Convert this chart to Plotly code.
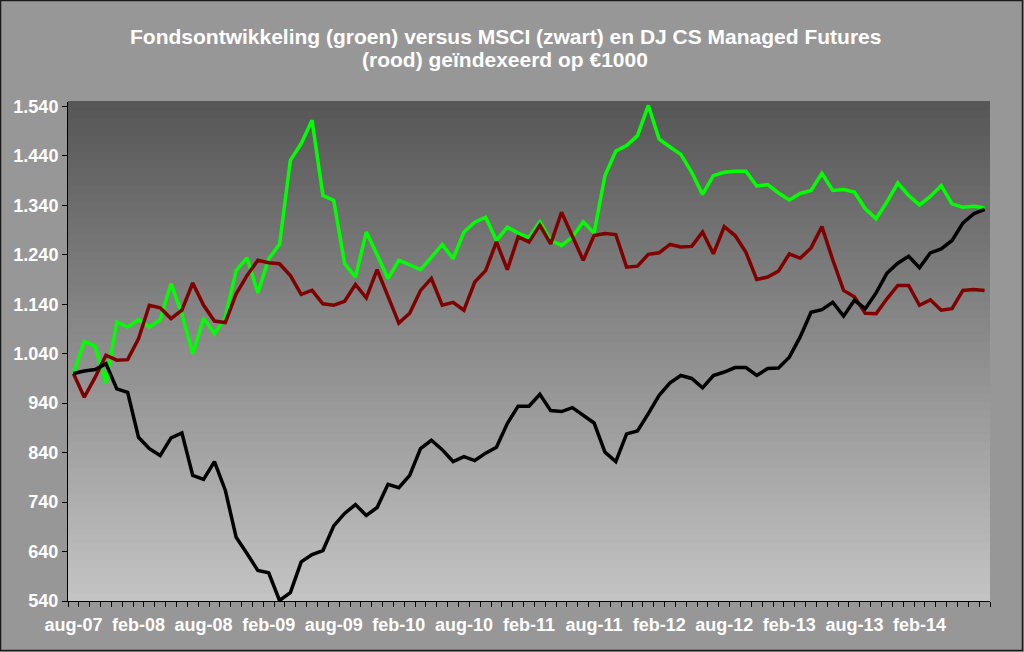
import plotly.graph_objects as go

# === Data (monthly, indexed on 1000) ===
months = ["aug-07", "sep-07", "okt-07", "nov-07", "dec-07", "jan-08", "feb-08", "mrt-08", "apr-08", "mei-08",
          "jun-08", "jul-08", "aug-08", "sep-08", "okt-08", "nov-08", "dec-08", "jan-09", "feb-09", "mrt-09",
          "apr-09", "mei-09", "jun-09", "jul-09", "aug-09", "sep-09", "okt-09", "nov-09", "dec-09", "jan-10",
          "feb-10", "mrt-10", "apr-10", "mei-10", "jun-10", "jul-10", "aug-10", "sep-10", "okt-10", "nov-10",
          "dec-10", "jan-11", "feb-11", "mrt-11", "apr-11", "mei-11", "jun-11", "jul-11", "aug-11", "sep-11",
          "okt-11", "nov-11", "dec-11", "jan-12", "feb-12", "mrt-12", "apr-12", "mei-12", "jun-12", "jul-12",
          "aug-12", "sep-12", "okt-12", "nov-12", "dec-12", "jan-13", "feb-13", "mrt-13", "apr-13", "mei-13",
          "jun-13", "jul-13", "aug-13", "sep-13", "okt-13", "nov-13", "dec-13", "jan-14", "feb-14", "mrt-14",
          "apr-14", "mei-14", "jun-14", "jul-14", "aug-14"]

fonds = [1000, 1065, 1055, 980, 1104, 1094, 1109, 1094, 1109, 1182,
         1120, 1040, 1112, 1080, 1114, 1208, 1234, 1163, 1232, 1261,
         1431, 1465, 1512, 1360, 1350, 1222, 1195, 1286, 1240, 1192,
         1229, 1220, 1210, 1235, 1261, 1232, 1286, 1306, 1316, 1269,
         1296, 1284, 1275, 1307, 1269, 1259, 1276, 1307, 1284, 1400,
         1450, 1461, 1481, 1542, 1474, 1458, 1443, 1407, 1362, 1400,
         1407, 1409, 1409, 1379, 1382, 1365, 1351, 1364, 1370, 1405,
         1370, 1372, 1367, 1333, 1313, 1347, 1385, 1360, 1341, 1358,
         1380, 1343, 1336, 1338, 1335]

msci = [1000, 1005, 1008, 1020, 969, 962, 871, 848, 834, 870,
        880, 794, 786, 822, 764, 669, 636, 602, 597, 541,
        557, 619, 634, 642, 692, 717, 735, 713, 729, 776,
        769, 794, 848, 865, 846, 822, 832, 824, 839, 851,
        899, 934, 934, 958, 925, 923, 931, 915, 900, 841,
        822, 878, 884, 919, 956, 981, 996, 990, 971, 996,
        1003, 1012, 1012, 996, 1010, 1011, 1033, 1074, 1124, 1129,
        1144, 1116, 1148, 1131, 1163, 1203, 1223, 1237, 1214, 1244,
        1252, 1269, 1304, 1323, 1332]

djcs = [1000, 952, 992, 1037, 1027, 1028, 1070, 1138, 1133, 1111,
        1128, 1183, 1138, 1106, 1103, 1161, 1198, 1229, 1224, 1222,
        1198, 1160, 1168, 1141, 1138, 1146, 1180, 1153, 1210, 1156,
        1102, 1122, 1168, 1192, 1138, 1144, 1128, 1185, 1208, 1266,
        1210, 1276, 1266, 1300, 1262, 1326, 1276, 1229, 1279, 1283,
        1281, 1215, 1217, 1241, 1244, 1261, 1256, 1257, 1286, 1242,
        1297, 1279, 1245, 1190, 1195, 1207, 1242, 1233, 1254, 1297,
        1230, 1168, 1155, 1122, 1121, 1151, 1178, 1178, 1138, 1149,
        1128, 1131, 1168, 1170, 1168]

y_ticks = [540, 640, 740, 840, 940, 1040, 1140, 1240, 1340, 1440, 1540]
y_labels = ["540", "640", "740", "840", "940", "1.040", "1.140", "1.240", "1.340", "1.440", "1.540"]

title_lines = ["Fondsontwikkeling (groen) versus MSCI (zwart) en DJ CS Managed Futures",
               "(rood) geïndexeerd op €1000"]

x_idx = list(range(len(months)))
label_idx = x_idx[::6][:-1]
label_txt = [months[i] for i in label_idx]

# === Layout numbers (pixels) ===
W, H = 1024, 652
L, R, T, B = 68, 34, 102, 51
pw, ph = W - L - R, H - T - B
font_main = "Liberation Sans, Arial, sans-serif"


def px_x(p):
    return (p - L) / pw


def px_y(p):
    return 1 + (T - p) / ph


fig = go.Figure()

series = [
    ("Fonds", fonds, "#00ff00"),
    ("DJ CS Managed Futures", djcs, "#800000"),
    ("MSCI", msci, "#000000"),
]
for name, vals, col in series:
    fig.add_trace(go.Scatter(
        x=x_idx, y=vals, mode="lines", name=name,
        line=dict(color=col, width=3.5),
        showlegend=False,
    ))

# invisible trace so the overlay axis with monthly tick marks gets drawn
fig.add_trace(go.Scatter(x=[-0.5], y=[540], xaxis="x2", mode="markers",
                         marker=dict(opacity=0), showlegend=False, hoverinfo="skip"))

# gradient plot background (dark top -> light bottom)
shapes = []
n = 60
top_c, bot_c = (86, 86, 86), (196, 196, 196)
for k in range(n):
    t = (k + 0.5) / n
    c = tuple(int(round(bot_c[j] + (top_c[j] - bot_c[j]) * t)) for j in range(3))
    shapes.append(dict(type="rect", xref="paper", yref="paper",
                       x0=0, x1=1, y0=k / n, y1=(k + 1) / n + 0.002,
                       fillcolor="rgb(%d,%d,%d)" % c, line=dict(width=0), layer="below"))

# outer chart border
shapes.append(dict(type="rect", xref="paper", yref="paper",
                   x0=px_x(0.5), x1=px_x(W - 1.5), y0=px_y(H - 1.5), y1=px_y(0.5),
                   line=dict(color="#1a1a1a", width=1.5), fillcolor="rgba(0,0,0,0)", layer="above"))

# two-line title as annotations (tighter line spacing than plotly's title)
annotations = []
for txt, yc in zip(title_lines, [37, 59]):
    annotations.append(dict(
        text=txt, xref="paper", yref="paper", x=px_x(505), y=px_y(yc),
        xanchor="center", yanchor="middle", showarrow=False,
        font=dict(family=font_main, size=21, color="white", weight="bold"),
    ))

fig.update_layout(
    width=W, height=H, autosize=False,
    margin=dict(l=L, r=R, t=T, b=B),
    paper_bgcolor="#979797",
    plot_bgcolor="#909090",
    xaxis=dict(
        range=[-0.5, len(months) - 0.5],
        tickvals=label_idx, ticktext=label_txt,
        ticks="", showgrid=False, zeroline=False,
        showline=True, linecolor="black", linewidth=1,
        tickfont=dict(family=font_main, size=18, color="white", weight="bold"),
        ticklabelstandoff=7,
    ),
    xaxis2=dict(
        overlaying="x", anchor="y", side="bottom",
        range=[-0.5, len(months) - 0.5],
        tickvals=[i - 0.5 for i in range(len(months) + 1)],
        ticks="outside", ticklen=5, tickcolor="black", tickwidth=1,
        showticklabels=False, showgrid=False, zeroline=False, showline=False,
    ),
    yaxis=dict(
        range=[540, 540 + 1009],
        tickvals=y_ticks, ticktext=y_labels,
        ticks="outside", ticklen=5, tickcolor="black",
        showgrid=False, zeroline=False,
        showline=True, linecolor="black", linewidth=1,
        tickfont=dict(family=font_main, size=18, color="white", weight="bold"),
    ),
    shapes=shapes,
    annotations=annotations,
    showlegend=False,
    hovermode="closest",
)

# drop the default 8px body margin so the figure sits at the window origin
fig.write_html("out.html", config={"displayModeBar": False},
               post_script="document.body.style.margin='0';")
